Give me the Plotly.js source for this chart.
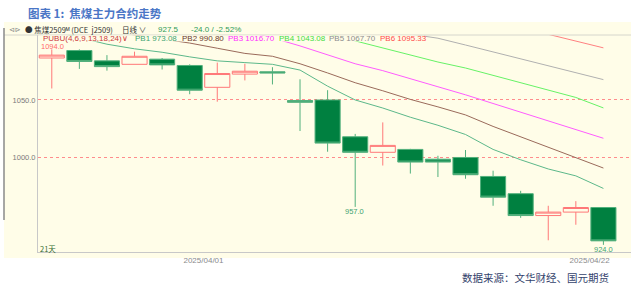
<!DOCTYPE html>
<html>
<head>
<meta charset="utf-8">
<script src="https://cdn.plot.ly/plotly-3.0.1.min.js"></script>
<style>
html,body{margin:0;padding:0;background:#ffffff;}
#chart{width:637px;height:289px;}
</style>
</head>
<body>
<div id="chart"></div>
<script>
// ---------------- data ----------------
const dates = ['2025/03/24','2025/03/25','2025/03/26','2025/03/27','2025/03/28','2025/03/31',
  '2025/04/01','2025/04/02','2025/04/03','2025/04/07','2025/04/08','2025/04/09','2025/04/10',
  '2025/04/11','2025/04/14','2025/04/15','2025/04/16','2025/04/17','2025/04/18','2025/04/21','2025/04/22'];
const open  = [1086.5,1093.0,1084.0,1081.0,1085.5,1080.0,1061.0,1072.5,1074.5,1049.5,1050.0,1018.0,1004.5,1007.0,998.5,1000.0,983.5,968.5,949.5,952.5,956.5];
const high  = [1094.0,1094.0,1089.0,1092.0,1086.5,1081.0,1082.5,1081.5,1078.5,1068.0,1058.5,1020.5,1030.5,1007.5,1001.5,1006.5,988.5,971.0,958.0,962.0,956.5];
const low   = [1060.0,1077.0,1075.5,1081.0,1076.5,1055.0,1048.5,1067.0,1063.5,1023.0,1005.0,957.0,993.0,986.0,983.0,981.5,958.0,947.5,928.0,941.5,924.0];
const close = [1089.0,1083.5,1079.0,1088.0,1080.5,1058.5,1073.0,1075.0,1073.5,1048.0,1012.5,1004.5,1010.5,996.0,996.0,985.0,965.5,949.5,952.5,956.5,927.5];

// PUBU (waterfall) lines PB1..PB6
const pb1 = [1110,1104,1098.5,1094.5,1091.5,1087.5,1084,1082.5,1081,1076,1062,1050,1043,1035,1028,1020,1007,998,990,984,973.08];
const pb2 = [1118,1114,1110,1106.5,1103,1099.5,1095,1090.5,1088,1081.5,1073.5,1065,1058,1050.5,1044,1037,1027,1018,1009,1000.5,990.80];
const pb3 = [null,null,null,null,null,null,null,1110,1104,1097,1089,1081.5,1075.5,1068.8,1061.5,1054.5,1047,1039.5,1032,1024.5,1016.70];
const pb4 = [null,null,null,null,null,null,null,null,null,null,1107.5,1101.5,1095.4,1089.2,1083,1077.8,1071.3,1065,1058.6,1052.2,1043.08];
const pb5 = [null,null,null,null,null,null,null,null,null,null,null,null,null,1107.3,1103.7,1097.8,1091.7,1085.8,1079.7,1073.6,1067.70];
const pb6 = [null,null,null,null,null,null,null,null,null,null,null,null,null,null,null,null,null,1113,1107.1,1101.2,1095.33];
const pbNames  = ['PB1','PB2','PB3','PB4','PB5','PB6'];
const pbSeries = [pb1,pb2,pb3,pb4,pb5,pb6];

const instrument = '焦煤2509ᴹ';
const contract = '(DCE  j2509)';
const lastPrice = 927.5, change = -24.0, changePct = -2.52;
const yTicks = [1000, 1050];
const xTickDates = ['2025/04/01','2025/04/22'];

// ---------------- styles ----------------
const BG = '#fffde8';
const pbColors = ['#5cb88a','#9a6a5a','#ff5cff','#66f266','#b0b0b0','#ff8080'];
const pbTextColors = ['#3fa472','#6a3a2e','#ff30ff','#3fdc3f','#8c8c8c','#ff4a4a'];
const FONT = 'Liberation Sans, Arial, sans-serif';
const CJK = 'Noto Sans CJK SC, sans-serif';

const L=38,R=631,T=35,B=252;
const px = p => (p-L)/(R-L);
const py = p => (B-p)/(B-T);

const idx = dates.map((d,i)=>i);

const traces = [{
  type:'candlestick', x: idx, open, high, low, close,
  increasing:{line:{color:'#ff7878', width:1}, fillcolor:BG},
  decreasing:{line:{color:'#52b07c', width:1}, fillcolor:'#008040'},
  whiskerwidth:0, hoverinfo:'skip', showlegend:false
}];
pbSeries.forEach((s,k)=>{
  traces.push({type:'scatter', mode:'lines', x: idx, y: s,
    line:{color:pbColors[k], width:1}, hoverinfo:'skip', showlegend:false});
});

const ann = [];
function txt(t, x, y, opts){
  ann.push(Object.assign({text:t, x:px(x), y:py(y), xref:'paper', yref:'paper',
    showarrow:false, xanchor:'left', yanchor:'middle',
    font:{family:FONT, size:8, color:'#333'}}, opts||{}));
}
// title & source
txt('图表 1:  焦煤主力合约走势', 26, 13, {font:{family:CJK, size:11.5, color:'#4a76c6', weight:'bold'}});
txt('数据来源：文华财经、国元期货', 611, 277, {xanchor:'right', font:{family:CJK, size:10.5, color:'#33426c'}});
// header row
txt('⊲⊳', 7, 30, {font:{family:'DejaVu Sans, sans-serif', size:7, color:'#888'}});
txt('● ' + instrument + ' ' + contract, 23, 30, {font:{family:CJK, size:7.5, color:'#333'}});
txt('日线 ∨', 120, 30, {font:{family:CJK, size:7.5, color:'#333'}});
txt(lastPrice.toFixed(1), 156, 30, {font:{family:FONT, size:8, color:'#2f9a5a'}});
txt(change.toFixed(1) + ' / ' + changePct.toFixed(2) + '%', 189, 30, {font:{family:FONT, size:8, color:'#2f9a5a'}});
// PUBU row
txt('PUBU(4,6,9,13,18,24)∨', 41, 38.5, {font:{family:FONT, size:8, color:'#cc3a3a'}});
const pbX = [133,180,226,277,327,378];
pbSeries.forEach((s,k)=>{
  txt(pbNames[k] + ' ' + s[s.length-1].toFixed(2), pbX[k], 38.5, {font:{family:FONT, size:8, color:pbTextColors[k]}});
});
// value labels
const iMax = high.indexOf(Math.max(...high));
const iMin = low.indexOf(Math.min(...low));
const iMin2 = low.indexOf(957.0);
txt(high[iMax].toFixed(1), 39, 46, {font:{family:FONT, size:7.5, color:'#ff6a6a'}});
txt(low[iMin2].toFixed(1), 355, 211, {xanchor:'center', font:{family:FONT, size:7.5, color:'#3fa472'}});
txt(low[iMin].toFixed(1), 603, 249, {xanchor:'center', font:{family:FONT, size:7.5, color:'#3fa472'}});
txt(dates.length + '天', 38, 248, {font:{family:CJK, size:7.5, color:'#2f6a2f'}});

const shapes = [
  {type:'rect', xref:'paper', yref:'paper', x0:px(4), x1:px(631), y0:py(258), y1:py(22), fillcolor:BG, line:{width:0}, layer:'below'},
  {type:'line', xref:'paper', yref:'paper', x0:px(4), x1:px(631), y0:py(35), y1:py(35), line:{color:'#d6d6cc', width:1}, layer:'above'},
  {type:'line', xref:'paper', yref:'paper', x0:px(4), x1:px(4), y0:py(28), y1:py(220), line:{color:'#8a8a8a', width:1.5}, layer:'above'},
  {type:'rect', xref:'paper', yref:'paper', x0:px(38.5), x1:px(424), y0:py(41.5), y1:py(35.5), fillcolor:BG, line:{width:0}, layer:'above'}
];

const layout = {
  width:637, height:289,
  margin:{l:L, r:637-R, t:T, b:289-B, pad:0},
  paper_bgcolor:'#ffffff', plot_bgcolor:BG,
  showlegend:false, boxgap:0.09, boxgroupgap:0, boxmode:'overlay',
  xaxis:{range:[-0.5,21], showgrid:false, zeroline:false, showline:true, linecolor:'#c8c8c8', linewidth:1,
    tickvals: xTickDates.map(d=>dates.indexOf(d)-0.5), ticktext: xTickDates, ticks:'',
    tickfont:{family:FONT, size:8, color:'#8a8a8a'}, rangeslider:{visible:false}, fixedrange:true},
  yaxis:{range:[917.8,1106.5], showgrid:true, gridcolor:'#ff8c8c', griddash:'dot', gridwidth:1,
    zeroline:false, showline:true, linecolor:'#c8c8c8', linewidth:1,
    tickvals: yTicks, ticktext: yTicks.map(v=>v.toFixed(1)), ticks:'',
    tickfont:{family:FONT, size:7.5, color:'#7a7a7a'}, fixedrange:true},
  annotations: ann, shapes: shapes
};
Plotly.newPlot('chart', traces, layout, {displayModeBar:false, staticPlot:true});
</script>
</body>
</html>
